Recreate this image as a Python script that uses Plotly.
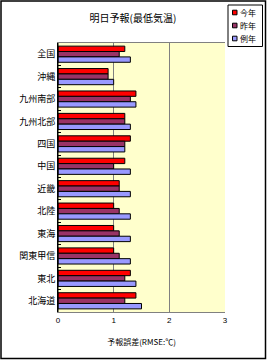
import plotly.graph_objects as go

regions = ["全国", "沖縄", "九州南部", "九州北部", "四国", "中国", "近畿", "北陸", "東海", "関東甲信", "東北", "北海道"]
this_year = [1.2, 0.9, 1.4, 1.2, 1.3, 1.2, 1.1, 1.0, 1.0, 1.0, 1.3, 1.4]
last_year = [1.1, 0.9, 1.3, 1.2, 1.2, 1.0, 1.1, 1.1, 1.1, 1.1, 1.2, 1.2]
normal = [1.3, 1.0, 1.4, 1.3, 1.2, 1.3, 1.3, 1.3, 1.3, 1.3, 1.4, 1.5]
series_names = ["今年", "昨年", "例年"]
series_colors = ["#FF0000", "#993366", "#9999FF"]
x_ticks = [0, 1, 2, 3]

W, H = 267, 360
ml, mr, mt, mb = 58, 42, 43, 48
pw, ph = W - ml - mr, H - mt - mb

font = "Noto Sans CJK JP"
fig = go.Figure()
for name, vals, col in zip(series_names, [this_year, last_year, normal], series_colors):
    fig.add_trace(go.Bar(
        y=regions, x=vals, name=name, orientation="h",
        marker=dict(color=col, line=dict(color="black", width=1)),
        showlegend=False,
    ))

def px2x(px):
    return (px - ml) / pw

def py2y(py):
    return (H - mb - py) / ph

shapes = [
    dict(type="rect", xref="paper", yref="paper",
         x0=px2x(1), x1=px2x(265.5), y0=py2y(358.5), y1=py2y(1),
         line=dict(color="black", width=1.5), fillcolor="rgba(0,0,0,0)"),
    dict(type="line", xref="paper", yref="paper", x0=0, x1=0, y0=0, y1=1,
         line=dict(color="black", width=1)),
    dict(type="rect", xref="paper", yref="paper",
         x0=px2x(228), x1=px2x(262.5), y0=py2y(46.5), y1=py2y(5),
         line=dict(color="black", width=1), fillcolor="white"),
]
annotations = []
legend_rows = [12.5, 25.5, 38.5]
for name, col, yc in zip(series_names, series_colors, legend_rows):
    shapes.append(dict(type="rect", xref="paper", yref="paper",
                       x0=px2x(232.5), x1=px2x(237), y0=py2y(yc + 2.3), y1=py2y(yc - 2.3),
                       line=dict(color="black", width=1), fillcolor=col))
    annotations.append(dict(text=name, xref="paper", yref="paper",
                            x=px2x(238), y=py2y(yc), xanchor="left", yanchor="middle",
                            showarrow=False, font=dict(size=8, family=font)))

fig.update_layout(
    width=W, height=H,
    margin=dict(l=ml, r=mr, t=mt, b=mb, autoexpand=False),
    paper_bgcolor="white",
    plot_bgcolor="#FFFFCC",
    barmode="group",
    bargap=0.28,
    bargroupgap=0,
    showlegend=False,
    font=dict(family=font, size=9, color="black"),
    title=dict(text="明日予報(最低気温)", x=133 / W, xanchor="center",
               y=1 - 18 / H, yanchor="middle",
               font=dict(size=10, family=font)),
    xaxis=dict(range=[0, 3], tickvals=x_ticks, showgrid=True,
               gridcolor="#808080", gridwidth=1, zeroline=False,
               showline=True, linecolor="#808080", mirror=True,
               ticks="", tickfont=dict(size=8, family="Arial"),
               title=dict(text="予報誤差(RMSE:℃)", font=dict(size=8, family=font), standoff=15)),
    yaxis=dict(autorange="reversed", showline=True, linecolor="black",
               ticks="inside", tickson="boundaries", ticklen=3, tickcolor="black",
               showgrid=False, tickfont=dict(size=9, family=font)),
    shapes=shapes,
    annotations=annotations,
)

fig.write_html("out.html")
